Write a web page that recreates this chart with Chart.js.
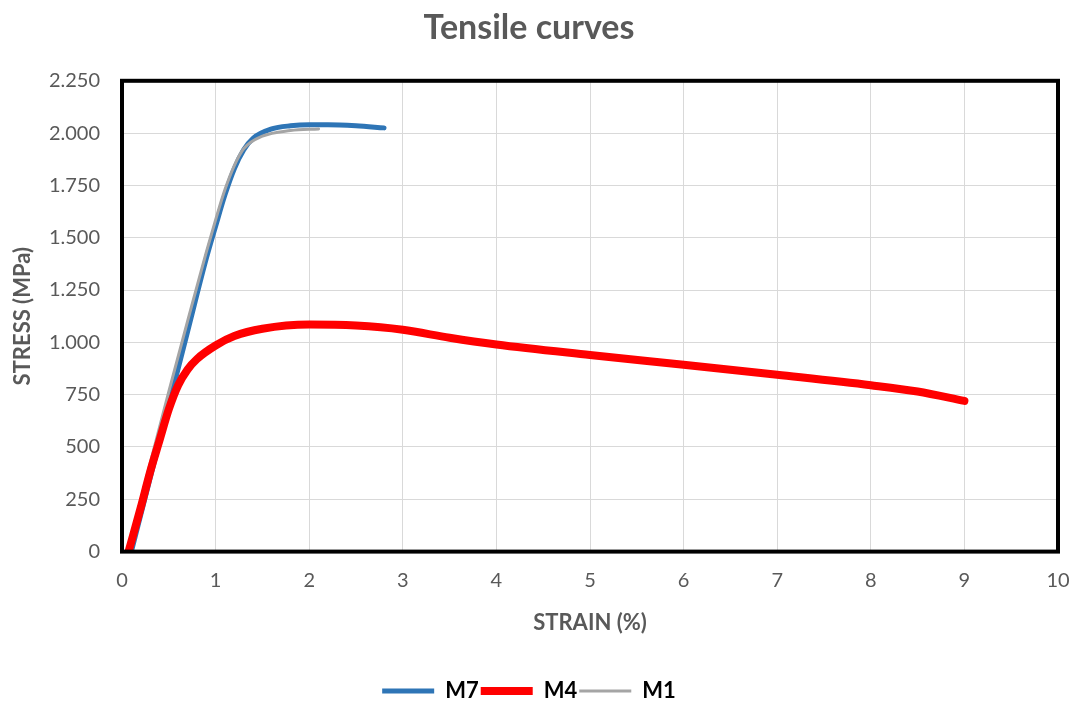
<!DOCTYPE html>
<html>
<head>
<meta charset="utf-8">
<script src="https://cdn.jsdelivr.net/npm/chart.js@4"></script>
<style>
  html, body { margin: 0; padding: 0; background: #fff; }
  #wrap { width: 1075px; height: 702px; }
</style>
</head>
<body>
<div id="wrap"><canvas id="tensileChart" width="1075" height="702"></canvas></div>
<script>
// Strain (%) / stress (MPa) pairs
const m7Strain = [0.1, 0.3, 0.5, 0.7, 0.9, 1.0, 1.1, 1.2, 1.3, 1.4, 1.6, 1.8, 2.0, 2.2, 2.5, 2.8];
const m7Stress = [0, 350, 700, 1050, 1400, 1555, 1705, 1830, 1920, 1975, 2020, 2035, 2040, 2040, 2035, 2025];

const m4Strain = [0.07, 0.2, 0.3, 0.4, 0.5, 0.6, 0.7, 0.8, 1.0, 1.2, 1.5, 2.0, 2.5, 3.0, 3.5, 4, 5, 6, 7, 8, 8.5, 9];
const m4Stress = [0, 210, 380, 530, 680, 795, 870, 920, 985, 1030, 1065, 1085, 1080, 1060, 1022, 990, 940, 893, 845, 795, 765, 720];

const m1Strain = [0.06, 0.3, 0.5, 0.7, 0.9, 1.0, 1.1, 1.2, 1.3, 1.5, 1.8, 2.1];
const m1Stress = [0, 420, 765, 1100, 1430, 1585, 1730, 1845, 1925, 1985, 2012, 2020];

const seriesNames = ['M7', 'M4', 'M1'];
const seriesColors = ['#2e75b6', '#ff0000', '#a5a5a5'];

const xTicks = [0, 1, 2, 3, 4, 5, 6, 7, 8, 9, 10];
const yTicks = [0, 250, 500, 750, 1000, 1250, 1500, 1750, 2000, 2250];

function toPoints(xs, ys) {
    return xs.map((x, i) => ({ x: x, y: ys[i] }));
}

// thousands with a dot, like the original
function fmtThousands(v) {
    return String(v).replace(/\B(?=(\d{3})+(?!\d))/g, '.');
}

const frameBorder = {
    id: 'frameBorder',
    afterDatasetsDraw(chart) {
        const { ctx, chartArea } = chart;
        ctx.save();
        ctx.strokeStyle = '#000';
        ctx.lineWidth = 4;
        ctx.strokeRect(chartArea.left, chartArea.top, chartArea.right - chartArea.left, chartArea.bottom - chartArea.top);
        ctx.restore();
    }
};

const tickColor = '#595959';
const fontFamily = 'Lato, "Open Sans", sans-serif';

new Chart(document.getElementById('tensileChart'), {
    type: 'line',
    data: {
        datasets: [
            { label: seriesNames[0], data: toPoints(m7Strain, m7Stress), borderColor: seriesColors[0], backgroundColor: seriesColors[0], borderWidth: 5, order: 2 },
            { label: seriesNames[1], data: toPoints(m4Strain, m4Stress), borderColor: seriesColors[1], backgroundColor: seriesColors[1], borderWidth: 8, order: 0 },
            { label: seriesNames[2], data: toPoints(m1Strain, m1Stress), borderColor: seriesColors[2], backgroundColor: seriesColors[2], borderWidth: 3, order: 1 }
        ]
    },
    options: {
        responsive: false,
        animation: false,
        layout: { padding: { left: 0, right: 17, top: 0, bottom: -10 } },
        elements: {
            point: { radius: 0 },
            line: { cubicInterpolationMode: 'monotone', borderCapStyle: 'round' }
        },
        plugins: {
            title: {
                display: true,
                text: 'Tensile curves',
                color: tickColor,
                font: { family: fontFamily, size: 34, weight: 'bold' },
                padding: { top: 8, bottom: 32 }
            },
            legend: {
                position: 'bottom',
                labels: {
                    usePointStyle: true,
                    pointStyle: 'line',
                    pointStyleWidth: 52,
                    sort: (a, b) => a.datasetIndex - b.datasetIndex,
                    color: '#000',
                    font: { family: fontFamily, size: 22, weight: 'bold' },
                    padding: 2
                }
            },
            tooltip: { enabled: false }
        },
        scales: {
            x: {
                type: 'linear',
                min: 0,
                max: 10,
                afterBuildTicks: s => { s.ticks = xTicks.map(v => ({ value: v })); },
                afterFit: s => { s.paddingRight = 0; s.paddingLeft = 0; },
                grid: { color: '#d9d9d9', lineWidth: 1, drawTicks: false },
                border: { display: false },
                ticks: { color: tickColor, padding: 17, font: { family: fontFamily, size: 20 } },
                title: {
                    display: true,
                    text: 'STRAIN (%)',
                    color: tickColor,
                    font: { family: fontFamily, size: 22, weight: 'bold' },
                    padding: { top: 0, bottom: 42 }
                }
            },
            y: {
                type: 'linear',
                min: 0,
                max: 2250,
                afterBuildTicks: s => { s.ticks = yTicks.map(v => ({ value: v })); },
                afterFit: s => { s.width = 122; },
                grid: { color: '#d9d9d9', lineWidth: 1, drawTicks: false },
                border: { display: false },
                ticks: {
                    color: tickColor,
                    padding: 22,
                    font: { family: fontFamily, size: 20 },
                    callback: v => fmtThousands(v)
                },
                title: {
                    display: true,
                    text: 'STRESS (MPa)',
                    color: tickColor,
                    font: { family: fontFamily, size: 22, weight: 'bold' },
                    padding: { top: 10, bottom: 0 }
                }
            }
        }
    },
    plugins: [frameBorder]
});
</script>
</body>
</html>
